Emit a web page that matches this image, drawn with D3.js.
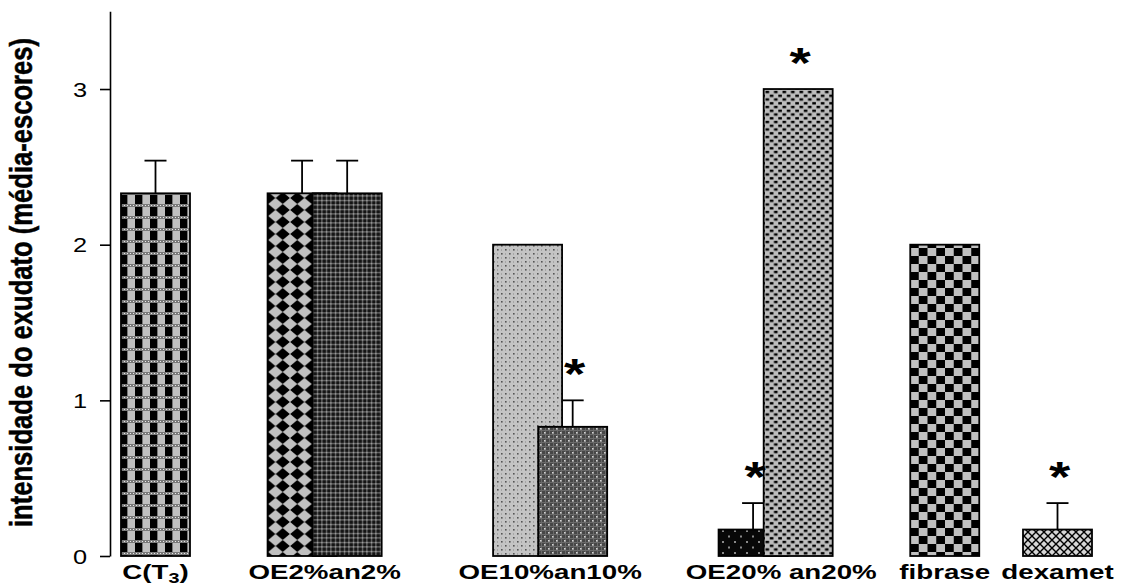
<!DOCTYPE html>
<html>
<head>
<meta charset="utf-8">
<script src="https://cdn.jsdelivr.net/npm/d3@7"></script>
<style>
  body { margin: 0; background: #fff; }
  svg { display: block; }
  text { font-family: "Liberation Sans", Arial, sans-serif; fill: #000; }
</style>
</head>
<body>
<div class="chart"></div>
<script>
// bars, in drawing order (second bar of each pair overlaps the first)
var barNames = ["C(T3)", "OE2%", "an2%", "OE10%", "an10%", "OE20%", "an20%", "fibrase", "dexamet"];
var barPos = [1, 2.3, 2.7, 4.3, 4.7, 6.3, 6.7, 8, 9];
var barMeans = [2.33, 2.33, 2.33, 2.0, 0.83, 0.17, 3.0, 2.0, 0.17];
var barErrors = [0.21, 0.21, 0.21, 0, 0.17, 0.17, 0, 0, 0.17];
var barSignif = [false, false, false, false, true, true, true, false, true];

// category labels under the axis
var groupLabels = ["C(T3)", "OE2%an2%", "OE10%an10%", "OE20% an20%", "fibrase", "dexamet"];
var groupPos = [1, 2.5, 4.5, 6.55, 8, 9];

var yTicks = [0, 1, 2, 3];
var yLabel = "intensidade do exudato (média-escores)";

var width = 1130, height = 588;
var sx = 1.32; // text in the original is stretched sideways

var svg = d3.select(".chart")
  .append("svg")
    .attr("width", width)
    .attr("height", height);

var x = d3.scaleLinear()
  .domain([1, 9])
  .range([155.5, 1057.5]);

var y = d3.scaleLinear()
  .domain([0, 3.5])
  .range([556, 11.2]);

var barW = x(1.612) - x(1);

// fill patterns, one per bar
var defs = svg.append("defs");

function pattern(id, w, h, bg) {
  var p = defs.append("pattern")
    .attr("id", id)
    .attr("patternUnits", "userSpaceOnUse")
    .attr("width", w)
    .attr("height", h);
  p.append("rect").attr("width", w).attr("height", h).attr("fill", bg);
  return p;
}
function box(p, x0, y0, w, h, c) {
  p.append("rect").attr("x", x0).attr("y", y0).attr("width", w).attr("height", h).attr("fill", c);
}

// C(T3): black blocks + dotted bands
var p0 = pattern("pat0", 15, 12, "#c0c0c0");
box(p0, 0, 0, 7, 12, "#000");
box(p0, 7, 0, 1, 12, "#777");
box(p0, 0, 0, 15, 3, "#7a7a7a");
[0, 3, 6, 9, 12].forEach(function(i) { box(p0, i + 1, 1, 1, 1, "#e8e8e8"); });

// OE2%: black diamonds
var p1 = pattern("pat1", 14.5, 12, "#c0c0c0");
p1.append("path").attr("d", "M7.25,0 L14.3,6 L7.25,12 L0.2,6 Z").attr("fill", "#000");

// an2%: fine dark grid
var p2 = pattern("pat2", 4.5, 4.5, "#141414");
box(p2, 0, 2, 4.5, 1, "#858585");
box(p2, 2, 0, 1, 4.5, "#858585");
box(p2, 2, 2, 1, 1, "#d0d0d0");

// OE10%: light stipple
var p3 = pattern("pat3", 8, 8, "#c4c4c4");
box(p3, 1, 1, 1.6, 1.6, "#555");
box(p3, 5, 5, 1.6, 1.6, "#555");
box(p3, 5, 1.5, 1, 1, "#888");
box(p3, 1, 5.5, 1, 1, "#888");

// an10%: dark mesh with light dots
var p4 = pattern("pat4", 8, 8, "#474747");
box(p4, 1, 0, 1, 8, "#6a6a6a");
box(p4, 5, 0, 1, 8, "#6a6a6a");
box(p4, 0, 2, 8, 1, "#6a6a6a");
box(p4, 0, 6, 8, 1, "#6a6a6a");
box(p4, 0, 0, 1.6, 1.6, "#d4d4d4");
box(p4, 4, 4, 1.6, 1.6, "#d4d4d4");

// OE20%: black with grey dots
var p5 = pattern("pat5", 12, 11, "#080808");
box(p5, 2, 2, 2, 2, "#8a8a8a");
box(p5, 8, 7.5, 2, 2, "#8a8a8a");

// an20%: grey with short black dashes
var p6 = pattern("pat6", 8.5, 7.5, "#bdbdbd");
box(p6, 0.5, 0.8, 3.6, 2.4, "#000");
box(p6, 4.8, 4.6, 3.6, 2.4, "#000");

// fibrase: checkerboard
var p7 = pattern("pat7", 17.5, 16, "#c0c0c0");
box(p7, 0, 0, 8.75, 8, "#000");
box(p7, 8.75, 8, 8.75, 8, "#000");

// dexamet: cross hatch
var p8 = pattern("pat8", 8, 8, "#d6d6d6");
p8.append("path").attr("d", "M0,0 L8,8 M8,0 L0,8").attr("stroke", "#000").attr("stroke-width", 1.4);

// Add the y Axis
var gY = svg.append("g")
  .attr("transform", "translate(110,0)")
  .call(d3.axisLeft(y).tickValues(yTicks).tickSize(10).tickSizeOuter(0).tickFormat(d3.format("d")));

gY.select(".domain").attr("stroke", "#000").attr("stroke-width", 1.6);
gY.selectAll(".tick line").attr("stroke", "#000").attr("stroke-width", 1.6);
gY.selectAll(".tick text")
  .attr("x", -23 / 1.3)
  .attr("dy", "0.36em")
  .attr("transform", "scale(1.3,1)")
  .style("font-size", "19.5px")
  .style("font-family", '"Liberation Sans", Arial, sans-serif');

// y axis title
svg.append("text")
  .attr("transform", "translate(32,282.5) scale(" + 1.37 + ",1) rotate(-90)")
  .attr("text-anchor", "middle")
  .attr("textLength", 489)
  .attr("lengthAdjust", "spacingAndGlyphs")
  .style("font-size", "23px")
  .style("font-weight", "bold")
  .style("stroke", "#000")
  .style("stroke-width", 0.4)
  .text(yLabel);

var data = barNames.map(function(n, i) {
  return { name: n, pos: barPos[i], mean: barMeans[i], err: barErrors[i], sig: barSignif[i], pat: "url(#pat" + i + ")" };
});

// bars
svg.selectAll(".bar")
  .data(data)
  .enter()
  .append("rect")
    .attr("class", "bar")
    .attr("x", function(d) { return x(d.pos) - barW / 2; })
    .attr("y", function(d) { return y(d.mean); })
    .attr("width", barW)
    .attr("height", function(d) { return y(0) - y(d.mean); })
    .attr("fill", function(d) { return d.pat; })
    .attr("stroke", "#000")
    .attr("stroke-width", 1.8);

// error bars (upper half only)
var withErr = data.filter(function(d) { return d.err > 0; });
var eb = svg.selectAll(".err")
  .data(withErr)
  .enter()
  .append("g")
    .attr("class", "err")
    .attr("stroke", "#000")
    .attr("stroke-width", 1.8);
eb.append("line")
  .attr("x1", function(d) { return x(d.pos); })
  .attr("x2", function(d) { return x(d.pos); })
  .attr("y1", function(d) { return y(d.mean); })
  .attr("y2", function(d) { return y(d.mean + d.err); });
eb.append("line")
  .attr("x1", function(d) { return x(d.pos) - 11; })
  .attr("x2", function(d) { return x(d.pos) + 11; })
  .attr("y1", function(d) { return y(d.mean + d.err); })
  .attr("y2", function(d) { return y(d.mean + d.err); });

// significance stars
svg.selectAll(".star")
  .data(data.filter(function(d) { return d.sig; }))
  .enter()
  .append("text")
    .attr("class", "star")
    .attr("transform", function(d) {
      return "translate(" + (x(d.pos) + 2) + "," + (y(d.mean + d.err) - 36 + 24) + ") scale(1.3,1)";
    })
    .attr("text-anchor", "middle")
    .style("font-size", "42px")
    .style("font-weight", "bold")
    .text("*");

// category labels
var lab = svg.selectAll(".cat")
  .data(groupLabels)
  .enter()
  .append("text")
    .attr("class", "cat")
    .attr("transform", function(d, i) { return "translate(" + x(groupPos[i]) + ",579) scale(" + sx + ",1)"; })
    .attr("text-anchor", "middle")
    .style("font-size", "21px")
    .style("font-weight", "bold");

lab.each(function(d) {
  var t = d3.select(this);
  if (d === "C(T3)") {
    t.append("tspan").text("C(T");
    t.append("tspan").attr("dy", 4).style("font-size", "15px").text("3");
    t.append("tspan").attr("dy", -4).text(")");
  } else {
    t.text(d);
  }
});
</script>
</body>
</html>
